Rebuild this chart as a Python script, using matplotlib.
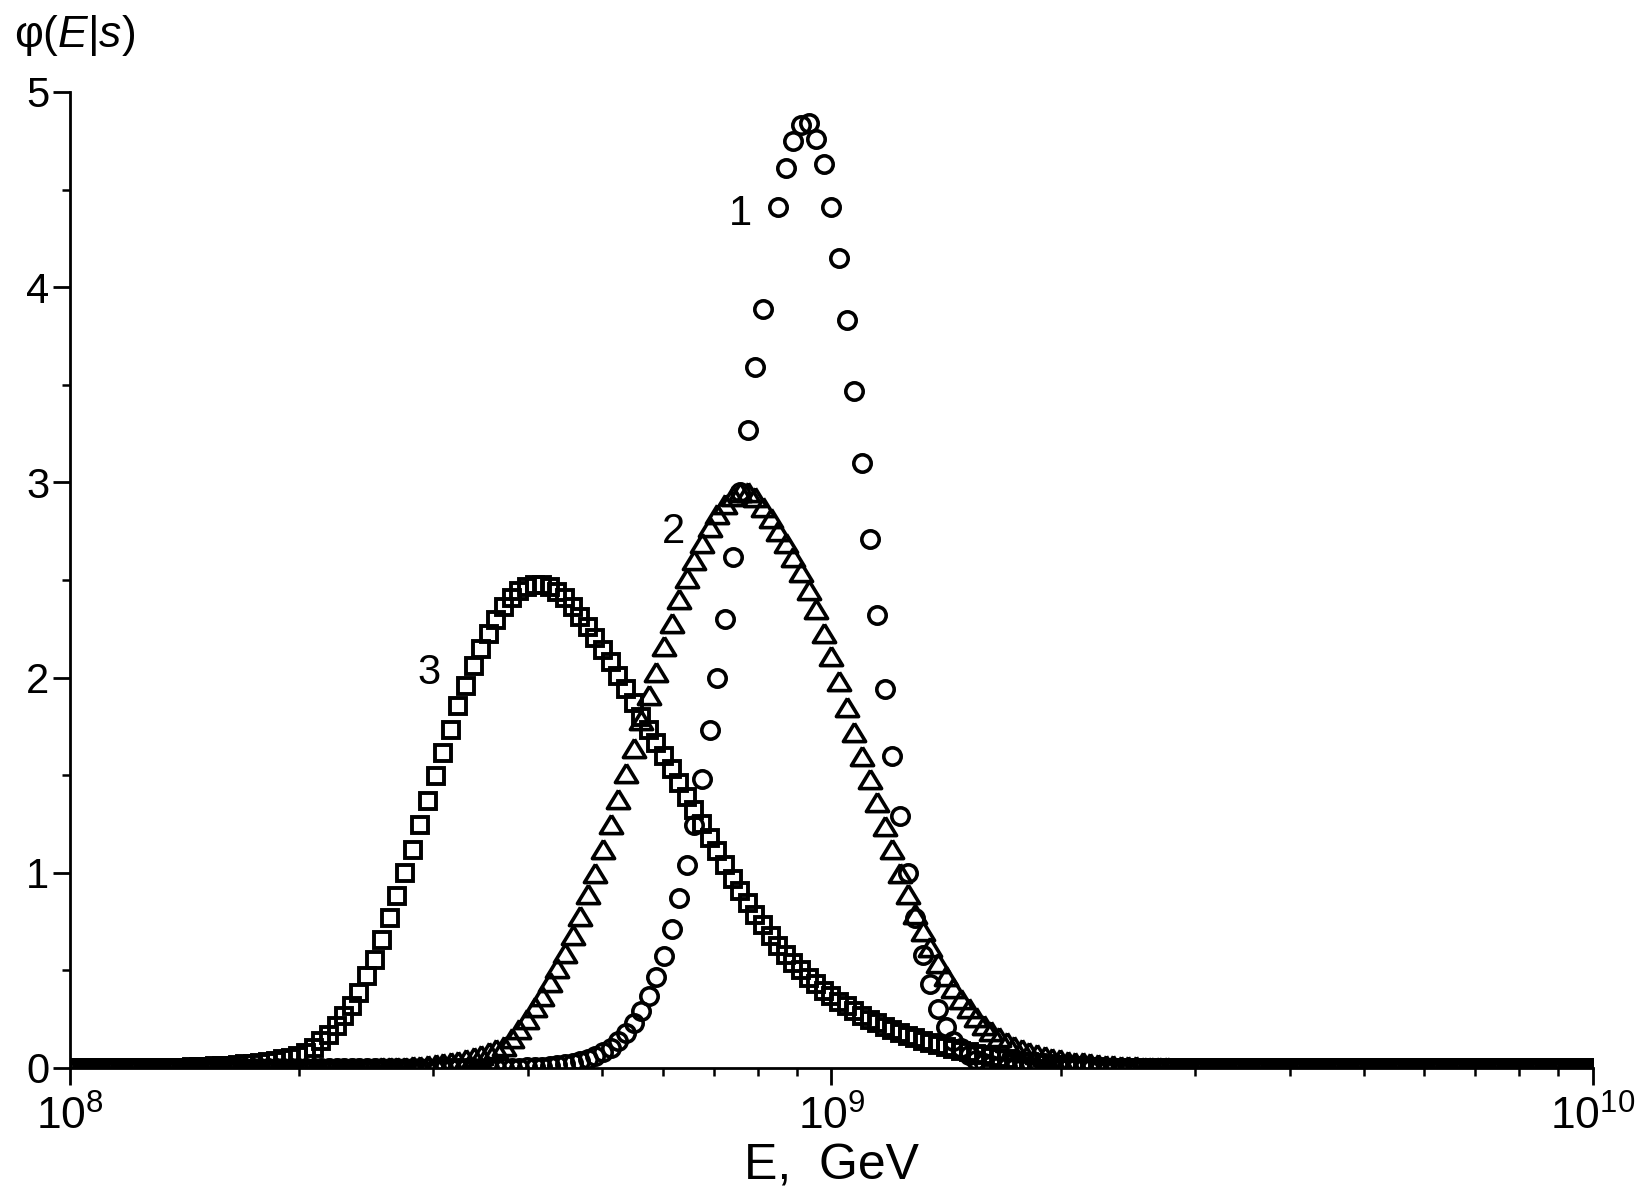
import numpy as np
import matplotlib.pyplot as plt
from matplotlib.ticker import LogLocator, LogFormatterMathtext, MultipleLocator, NullFormatter

plt.rcParams['font.family'] = ['Liberation Sans', 'DejaVu Sans']
plt.rcParams['mathtext.fontset'] = 'custom'
plt.rcParams['mathtext.rm'] = 'Liberation Sans'
plt.rcParams['mathtext.it'] = 'Liberation Sans:italic'
plt.rcParams['mathtext.default'] = 'regular'

# energy grid: log10(E / GeV) from 8 to 10, one point every 0.01
log_e_first = 8.0
log_e_step = 0.01
n_pts = 201

# curve 1 (circles), starting at log10 E = 8.60
curve1_start = 8.60
curve1 = [0.003, 0.004, 0.006, 0.01, 0.015, 0.02, 0.027, 0.036, 0.047, 0.062,
          0.08, 0.10, 0.137, 0.18, 0.23, 0.29, 0.37, 0.465, 0.575, 0.71,
          0.87, 1.04, 1.245, 1.48, 1.73, 2.00, 2.30, 2.62, 2.95, 3.27,
          3.59, 3.89, np.nan, 4.41, 4.61, 4.75, 4.83, 4.84, 4.76, 4.63,
          4.41, 4.15, 3.83, 3.47, 3.10, 2.71, 2.32, 1.94, 1.60, 1.29,
          1.00, 0.77, 0.58, 0.43, 0.30, 0.21, 0.14, 0.10, 0.065, 0.04,
          0.025, 0.015, 0.008, 0.004]

# curve 2 (triangles), starting at log10 E = 8.40
curve2_start = 8.40
curve2 = [0.002, 0.003, 0.004, 0.005, 0.007, 0.009, 0.012, 0.015, 0.019, 0.024,
          0.03, 0.036, 0.044, 0.054, 0.066, 0.08, 0.095, 0.115, 0.155, 0.20,
          0.25, 0.31, 0.37, 0.44, 0.51, 0.59, 0.68, 0.78, 0.89, 1.00,
          1.12, 1.25, 1.38, 1.51, 1.64, 1.78, 1.91, 2.03, 2.16, 2.28,
          2.40, 2.51, 2.60, 2.69, 2.77, 2.84, 2.89, 2.93, 2.95, 2.95,
          2.925, 2.875, 2.815, 2.75, 2.69, 2.62, 2.54, 2.45, 2.35, 2.23,
          2.11, 1.98, 1.85, 1.72, 1.60, 1.48, 1.36, 1.24, 1.12, 1.00,
          0.89, 0.79, 0.70, 0.62, 0.54, 0.47, 0.41, 0.355, 0.305, 0.26,
          0.22, 0.19, 0.16, 0.135, 0.115, 0.097, 0.082, 0.07, 0.06, 0.051,
          0.044, 0.038, 0.033, 0.028, 0.024, 0.02, 0.017, 0.014, 0.012, 0.01,
          0.008, 0.006, 0.005, 0.004, 0.003, 0.002]

# curve 3 (squares), starting at log10 E = 8.15
curve3_start = 8.15
curve3 = [0.002, 0.003, 0.004, 0.006, 0.008, 0.01, 0.012, 0.015, 0.018, 0.022,
          0.026, 0.031, 0.037, 0.045, 0.052, 0.062, 0.077, 0.103, 0.137, 0.171,
          0.214, 0.265, 0.316, 0.385, 0.47, 0.555, 0.658, 0.769, 0.879, 0.999,
          1.118, 1.246, 1.366, 1.494, 1.616, 1.733, 1.852, 1.958, 2.057, 2.146,
          2.225, 2.295, 2.36, 2.41, 2.445, 2.466, 2.475, 2.475, 2.462, 2.44,
          2.407, 2.36, 2.31, 2.26, 2.20, 2.14, 2.08, 2.01, 1.94, 1.87,
          1.80, 1.73, 1.665, 1.60, 1.53, 1.46, 1.39, 1.32, 1.25, 1.18,
          1.11, 1.04, 0.97, 0.905, 0.845, 0.785, 0.73, 0.675, 0.625, 0.58,
          0.538, 0.50, 0.462, 0.428, 0.396, 0.367, 0.34, 0.315, 0.29, 0.268,
          0.248, 0.23, 0.212, 0.195, 0.18, 0.165, 0.152, 0.14, 0.128, 0.117,
          0.107, 0.097, 0.088, 0.08, 0.072, 0.064, 0.057, 0.05, 0.044, 0.038,
          0.033, 0.028, 0.024, 0.02, 0.017, 0.014, 0.011, 0.009, 0.007, 0.005,
          0.003]

# curve numbers and where they sit (E in GeV, phi)
curve_names = ["1", "2", "3"]
name_E = [7.6e8, 6.2e8, 2.96e8]
name_y = [4.375, 2.746, 2.025]


def full_curve(start, vals):
    # outside the read range the curve lies on zero
    y = np.zeros(n_pts)
    i0 = int(round((start - log_e_first) / log_e_step))
    y[i0:i0 + len(vals)] = vals
    return y


log_e = log_e_first + log_e_step * np.arange(n_pts)
E = 10 ** log_e

fig = plt.figure(figsize=(16.36, 11.89), dpi=100)
ax = fig.add_axes([0.0428, 0.1018, 0.9309, 0.8209])

# triangle a bit wider than tall, like the original
tri = [(0, 0.82), (-1, -0.82), (1, -0.82), (0, 0.82)]

ax.plot(E, full_curve(curve3_start, curve3), ls="none", marker="s", ms=11,
        mfc="none", mec="k", mew=2.8)
ax.plot(E, full_curve(curve2_start, curve2), ls="none", marker=tri, ms=16,
        mfc="none", mec="k", mew=2.6)
ax.plot(E, full_curve(curve1_start, curve1), ls="none", marker="o", ms=12.5,
        mfc="none", mec="k", mew=2.6)

for name, xe, ye in zip(curve_names, name_E, name_y):
    ax.text(xe, ye, name, fontsize=30, ha="center", va="center")

ax.set_xscale("log")
ax.set_xlim(1e8, 1e10)
ax.set_ylim(0, 5)

ax.xaxis.set_major_locator(LogLocator(base=10, numticks=5))
ax.xaxis.set_major_formatter(LogFormatterMathtext())
ax.xaxis.set_minor_locator(LogLocator(base=10, subs=np.arange(2, 10), numticks=20))
ax.xaxis.set_minor_formatter(NullFormatter())
ax.yaxis.set_major_locator(MultipleLocator(1))
ax.yaxis.set_minor_locator(MultipleLocator(0.5))

for s in ["top", "right"]:
    ax.spines[s].set_visible(False)
for s in ["left", "bottom"]:
    ax.spines[s].set_linewidth(2)

ax.tick_params(which="major", direction="out", length=12, width=2, labelsize=30, pad=3)
ax.tick_params(which="minor", direction="out", length=6, width=1.8)
ax.tick_params(axis="x", which="major", labelsize=32, pad=8)

ax.set_xlabel("E,  GeV", fontsize=36, labelpad=3)
fig.text(14 / 1636, 1 - 36 / 1189, r"$\varphi(\mathit{E}|\mathit{s})$", fontsize=32,
         ha="left", va="center")

plt.savefig("out.png", dpi=100)
